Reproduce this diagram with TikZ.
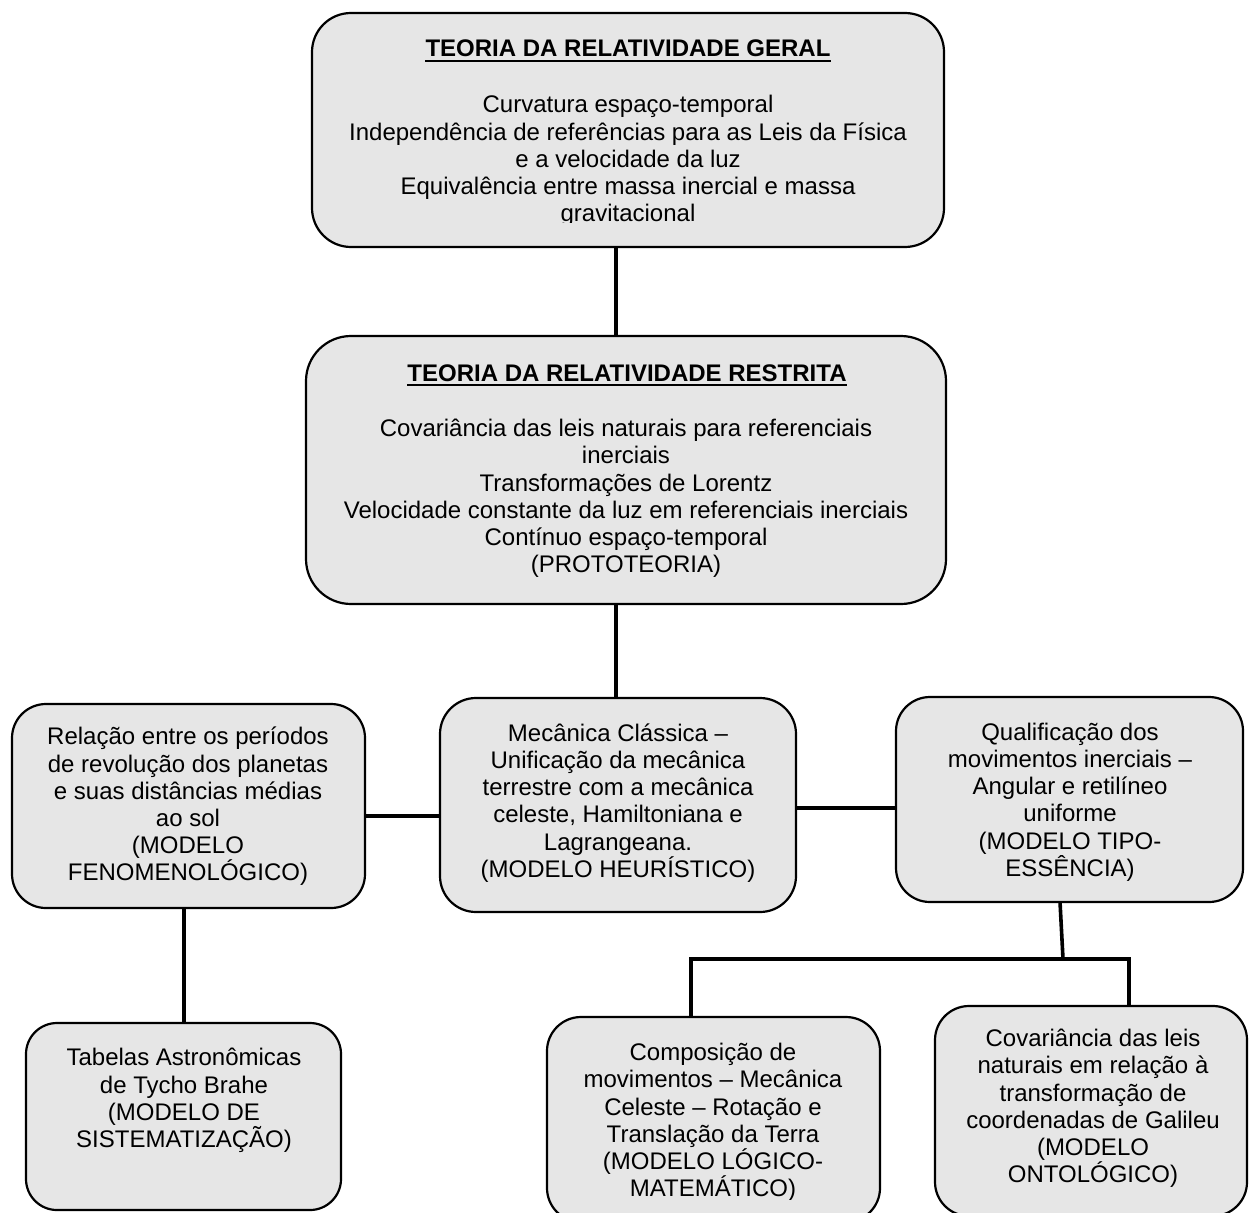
\documentclass[tikz,border=0pt]{standalone}
\usepackage{fontspec}
\setmainfont{Liberation Sans}
\usetikzlibrary{calc}
\definecolor{boxgray}{RGB}{230,230,230}

\begin{document}
\begin{tikzpicture}[x=1pt,y=-1pt,
  box/.style={draw=black, line width=2.2pt, fill=boxgray, rounded corners=#1, inner sep=0pt, outer sep=0pt},
  txt/.style={font=\fontsize{24}{27.2}\selectfont, align=center, inner sep=0pt},
  ttl/.style={font=\fontsize{24}{27.2}\selectfont\bfseries, inner sep=0pt},
  link/.style={line width=3.6pt, line join=miter}]
\useasboundingbox[fill=white] (0,0) rectangle (1249,1212);

% rounded boxes
\node[box=39pt, minimum width=632pt, minimum height=234pt] (geral) at (628,130) {};
\node[box=45pt, minimum width=640pt, minimum height=268pt] (restrita) at (626,470) {};
\node[box=36pt, minimum width=356pt, minimum height=214pt] (mecanica) at (618,805) {};
\node[box=34pt, minimum width=353pt, minimum height=204pt] (relacao) at (188.5,806) {};
\node[box=34pt, minimum width=347pt, minimum height=205pt] (qualif) at (1069.5,799.5) {};
\node[box=31pt, minimum width=315pt, minimum height=187pt] (tabelas) at (183.5,1116.5) {};
\node[box=34pt, minimum width=333pt, minimum height=205pt] (composicao) at (713.5,1119.5) {};
\node[box=34pt, minimum width=312pt, minimum height=210pt] (covariancia) at (1091,1111) {};

% titles with underline
\node[ttl, anchor=base] (geraltit) at (628,57) {TEORIA DA RELATIVIDADE GERAL};
\draw[line width=2pt] ($(geraltit.base west)+(0,4)$) -- ($(geraltit.base east)+(0,4)$);
\node[ttl, anchor=base] (restit) at (627,381) {TEORIA DA RELATIVIDADE RESTRITA};
\draw[line width=2pt] ($(restit.base west)+(0,4)$) -- ($(restit.base east)+(0,4)$);

% box texts (some are cut off by their text frames)
\begin{scope}
  \clip (0,0) rectangle (1249,222);
  \node[txt] (geraltxt) at (628,161) {Curvatura espaço-temporal\\Independência de referências para as Leis da Física\\e a velocidade da luz\\Equivalência entre massa inercial e massa\\gravitacional};
\end{scope}
\node[txt] (restxt) at (626,498.5) {Covariância das leis naturais para referenciais\\inerciais\\Transformações de Lorentz\\Velocidade constante da luz em referenciais inerciais\\Contínuo espaço-temporal\\(PROTOTEORIA)};
\node[txt] (mectxt) at (618,803) {Mecânica Clássica –\\Unificação da mecânica\\terrestre com a mecânica\\celeste, Hamiltoniana e\\Lagrangeana.\\(MODELO HEURÍSTICO)};
\node[txt] (reltxt) at (188,806.5) {Relação entre os períodos\\de revolução dos planetas\\e suas distâncias médias\\ao sol\\(MODELO\\FENOMENOLÓGICO)};
\begin{scope}
  \clip (0,0) rectangle (1249,880);
  \node[txt] (qualtxt) at (1070,802) {Qualificação dos\\movimentos inerciais –\\Angular e retilíneo\\uniforme\\(MODELO TIPO-\\ESSÊNCIA)};
\end{scope}
\node[txt] (tabtxt) at (184,1100.5) {Tabelas Astronômicas\\de Tycho Brahe\\(MODELO DE\\SISTEMATIZAÇÃO)};
\begin{scope}
  \clip (0,0) rectangle (1249,1199);
  \node[txt] (comptxt) at (713,1122.5) {Composição de\\movimentos – Mecânica\\Celeste – Rotação e\\Translação da Terra\\(MODELO LÓGICO-\\MATEMÁTICO)};
\end{scope}
\node[txt] (covtxt) at (1093,1108.5) {Covariância das leis\\naturais em relação à\\transformação de\\coordenadas de Galileu\\(MODELO\\ONTOLÓGICO)};

% connectors
\coordinate (spine) at (616,0);
\draw[link] (spine |- geral.south) -- (spine |- restrita.north);
\draw[link] (spine |- restrita.south) -- (spine |- mecanica.north);
\coordinate (lefty) at (0,816);
\draw[link] (relacao.east |- lefty) -- (mecanica.west |- lefty);
\coordinate (righty) at (0,808);
\draw[link] (mecanica.east |- righty) -- (qualif.west |- righty);
\coordinate (tx) at (184,0);
\draw[link] (tx |- relacao.south) -- (tx |- tabelas.north);
\coordinate (qx) at (1060,0);
\coordinate (jn) at (1063,959);
\coordinate (jl) at (691,959);
\coordinate (jr) at (1129,959);
\draw[link] (qx |- qualif.south) -- (jn);
\draw[link] (jl |- composicao.north) -- (jl) -- (jr) -- (jr |- covariancia.north);
\end{tikzpicture}
\end{document}
